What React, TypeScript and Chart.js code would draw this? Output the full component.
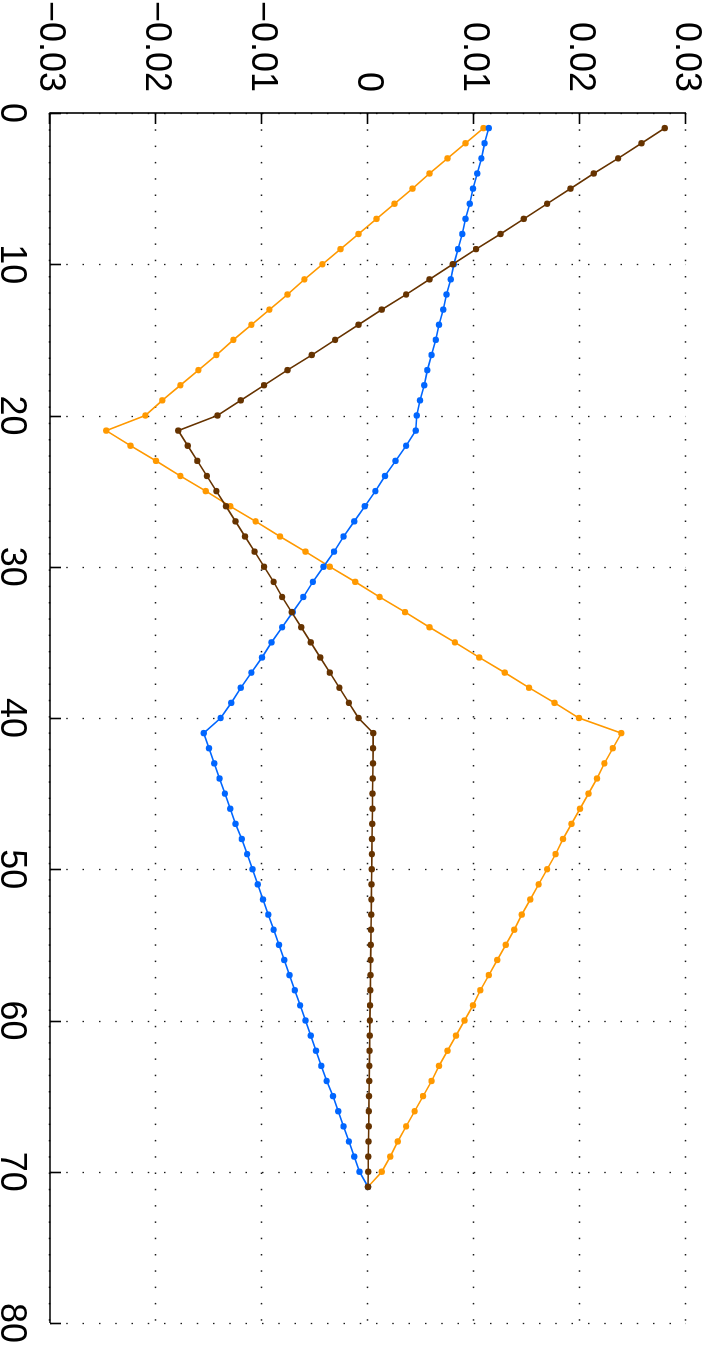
import React, { useEffect, useRef } from "react";
import { Chart, registerables } from "chart.js";

Chart.register(...registerables);

// Sample index (vertical axis in the picture)
const positions = [
  1, 2, 3, 4, 5, 6, 7, 8, 9, 10, 11, 12, 13, 14, 15, 16, 17, 18, 19, 20,
  21, 22, 23, 24, 25, 26, 27, 28, 29, 30, 31, 32, 33, 34, 35, 36, 37, 38, 39, 40,
  41, 42, 43, 44, 45, 46, 47, 48, 49, 50, 51, 52, 53, 54, 55, 56, 57, 58, 59, 60,
  61, 62, 63, 64, 65, 66, 67, 68, 69, 70, 71,
];

const orangeSeries = [
  0.0109, 0.0092, 0.0075, 0.0058, 0.0042, 0.0025, 0.0008, -0.0009, -0.0026, -0.0043,
  -0.006, -0.0076, -0.0093, -0.011, -0.0127, -0.0143, -0.016, -0.0177, -0.0194, -0.021,
  -0.0247, -0.0224, -0.02, -0.0177, -0.0153, -0.013, -0.0106, -0.0083, -0.0059, -0.0036,
  -0.0012, 0.0011, 0.0035, 0.0058, 0.0082, 0.0105, 0.0129, 0.0152, 0.0176, 0.0199,
  0.0239, 0.0231, 0.0223, 0.0216, 0.0208, 0.02, 0.0192, 0.0184, 0.0177, 0.0169,
  0.0161, 0.0153, 0.0145, 0.0138, 0.013, 0.0122, 0.0114, 0.0106, 0.0099, 0.0091,
  0.0083, 0.0075, 0.0067, 0.006, 0.0052, 0.0044, 0.0036, 0.0028, 0.0021, 0.0013,
  0.0,
];

const brownSeries = [
  0.028, 0.0258, 0.0236, 0.0213, 0.0191, 0.0169, 0.0147, 0.0125, 0.0102, 0.008,
  0.0058, 0.0036, 0.0013, -0.0009, -0.0031, -0.0053, -0.0076, -0.0098, -0.012, -0.0142,
  -0.0179, -0.017, -0.0161, -0.0152, -0.0143, -0.0134, -0.0125, -0.0116, -0.0107, -0.0098,
  -0.0089, -0.0081, -0.0072, -0.0063, -0.0054, -0.0045, -0.0036, -0.0027, -0.0018, -0.0009,
  0.0005, 0.00048, 0.00047, 0.00045, 0.00043, 0.00042, 0.0004, 0.00038, 0.00037, 0.00035,
  0.00033, 0.00032, 0.0003, 0.00028, 0.00027, 0.00025, 0.00023, 0.00022, 0.0002, 0.00018,
  0.00017, 0.00015, 0.00013, 0.00012, 0.0001, 0.00008, 0.00007, 0.00005, 0.00003, 0.00002,
  0.0,
];

const blueSeries = [
  0.0114, 0.011, 0.0107, 0.0103, 0.0099, 0.0096, 0.0092, 0.0089, 0.0085, 0.0081,
  0.0078, 0.0074, 0.0071, 0.0067, 0.0064, 0.006, 0.0056, 0.0053, 0.0049, 0.0046,
  0.0045, 0.0036, 0.0026, 0.0016, 0.0007, -0.0003, -0.0013, -0.0023, -0.0032, -0.0042,
  -0.0052, -0.0061, -0.0071, -0.0081, -0.0091, -0.01, -0.011, -0.012, -0.0129, -0.0139,
  -0.0155, -0.015, -0.0145, -0.014, -0.0135, -0.013, -0.0125, -0.0119, -0.0114, -0.0109,
  -0.0104, -0.0099, -0.0094, -0.0089, -0.0084, -0.0079, -0.0074, -0.0069, -0.0064, -0.0059,
  -0.0054, -0.0049, -0.0044, -0.0039, -0.0033, -0.0028, -0.0023, -0.0018, -0.0013, -0.0008,
  0.0,
];

const indexTicks = [0, 10, 20, 30, 40, 50, 60, 70, 80];
const valueTicks = [-0.03, -0.02, -0.01, 0, 0.01, 0.02, 0.03];
const valueTickLabels = ["\u22120.03", "\u22120.02", "\u22120.01", "0", "0.01", "0.02", "0.03"];

const ORANGE = "#FF9900";
const BROWN = "#663300";
const BLUE = "#0066FF";

const FONT = "'Liberation Sans', Arial, Helvetica, sans-serif";

const W = 1350;
const H = 706;

const matlabAxes = {
  id: "matlabAxes",
  beforeDatasetsDraw(chart: any) {
    const { ctx, chartArea, scales } = chart;
    const { left, right, top, bottom } = chartArea;
    const xs = scales.x;
    const ys = scales.y;
    ctx.save();
    // dotted grid
    ctx.strokeStyle = "#1a1a1a";
    ctx.lineWidth = 1.3;
    ctx.setLineDash([1.5, 14.8]);
    for (const v of indexTicks) {
      const px = Math.round(xs.getPixelForValue(v)) + 0.5;
      ctx.beginPath();
      ctx.moveTo(px, bottom);
      ctx.lineTo(px, top);
      ctx.stroke();
    }
    for (const v of valueTicks) {
      const py = Math.round(ys.getPixelForValue(v)) + 0.5;
      ctx.beginPath();
      ctx.moveTo(left, py);
      ctx.lineTo(right, py);
      ctx.stroke();
    }
    ctx.setLineDash([]);
    // axis lines
    ctx.strokeStyle = "#000";
    ctx.lineWidth = 1.6;
    ctx.beginPath();
    ctx.moveTo(left, top);
    ctx.lineTo(left, bottom);
    ctx.lineTo(right, bottom);
    ctx.stroke();
    // inward ticks
    const tl = 11;
    for (const v of indexTicks) {
      const px = Math.round(xs.getPixelForValue(v)) + 0.5;
      ctx.beginPath();
      ctx.moveTo(px, bottom);
      ctx.lineTo(px, bottom - tl);
      ctx.stroke();
    }
    for (const v of valueTicks) {
      const py = Math.round(ys.getPixelForValue(v)) + 0.5;
      ctx.beginPath();
      ctx.moveTo(left, py);
      ctx.lineTo(left + tl, py);
      ctx.stroke();
    }
    ctx.restore();
  },
};

function makeDataset(label: string, values: number[], color: string) {
  return {
    label,
    data: positions.map((p, i) => ({ x: p, y: values[i] })),
    borderColor: color,
    backgroundColor: color,
    borderWidth: 1.6,
    pointRadius: 3.2,
    pointBorderWidth: 0,
    pointBackgroundColor: color,
    tension: 0,
    fill: false,
  };
}

export default function App() {
  const canvasRef = useRef<HTMLCanvasElement | null>(null);

  useEffect(() => {
    const canvas = canvasRef.current;
    if (!canvas) return;
    const chart = new Chart(canvas, {
      type: "line",
      data: {
        datasets: [
          makeDataset("brown", brownSeries, BROWN),
          makeDataset("blue", blueSeries, BLUE),
          makeDataset("orange", orangeSeries, ORANGE),
        ],
      },
      options: {
        responsive: false,
        animation: false,
        devicePixelRatio: 1,
        layout: { padding: { top: 20, right: 27, left: 0, bottom: 0 } },
        plugins: {
          legend: { display: false },
          tooltip: { enabled: false },
          title: { display: false },
        },
        scales: {
          x: {
            type: "linear",
            min: 0,
            max: 80,
            grid: { display: false },
            border: { display: false },
            afterBuildTicks: (scale: any) => {
              scale.ticks = indexTicks.map((v) => ({ value: v }));
            },
            afterFit: (scale: any) => {
              scale.height = 50;
              scale.paddingLeft = 0;
              scale.paddingRight = 0;
            },
            ticks: {
              color: "#000",
              padding: 13,
              maxRotation: 0,
              autoSkip: false,
              font: { family: FONT, size: 36, lineHeight: 1 },
              callback: (v: any) => String(v),
            },
          },
          y: {
            type: "linear",
            min: -0.03,
            max: 0.03,
            grid: { display: false },
            border: { display: false },
            afterBuildTicks: (scale: any) => {
              scale.ticks = valueTicks.map((v) => ({ value: v }));
            },
            afterFit: (scale: any) => {
              scale.width = 113;
              scale.paddingTop = 0;
              scale.paddingBottom = 0;
            },
            ticks: {
              color: "#000",
              padding: 13,
              autoSkip: false,
              font: { family: FONT, size: 36, lineHeight: 1 },
              callback: (_v: any, i: number) => valueTickLabels[i],
            },
          },
        },
      },
      plugins: [matlabAxes],
    } as any);
    return () => chart.destroy();
  }, []);

  return (
    <div
      style={{
        position: "fixed",
        left: 0,
        top: 0,
        width: W,
        height: H,
        background: "#fff",
        transformOrigin: "0 0",
        transform: `translateX(${H}px) rotate(90deg)`,
      }}
    >
      <canvas ref={canvasRef} width={W} height={H} style={{ display: "block" }} />
    </div>
  );
}
